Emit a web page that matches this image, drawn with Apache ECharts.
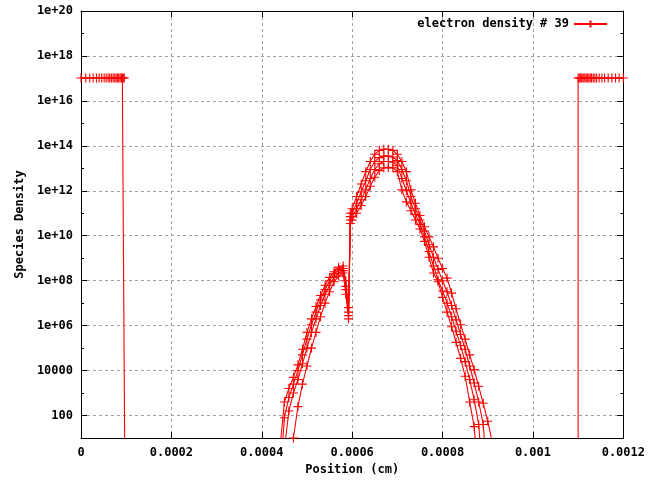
<!DOCTYPE html>
<html><head><meta charset="utf-8">
<script src="https://cdn.jsdelivr.net/npm/echarts@6/dist/echarts.min.js"></script>
<style>html,body{margin:0;padding:0;background:#fff}#c{width:648px;height:481px}</style>
</head><body><div id="c"></div>
<script>
const seriesName = 'electron density # 39';
const xAxisName = 'Position (cm)';
const yAxisName = 'Species Density';
const xTickLabels = ['0', '0.0002', '0.0004', '0.0006', '0.0008', '0.001', '0.0012'];
const yTickLabels = ['100', '10000', '1e+06', '1e+08', '1e+10', '1e+12', '1e+14', '1e+16', '1e+18', '1e+20'];

// left electrode plateau and its drop
const leftPlateauX = [0, 1.06e-5, 1.94e-5, 2.69e-5, 3.42e-5, 4.01e-5, 4.59e-5, 5.12e-5, 5.56e-5, 6.0e-5, 6.35e-5,
  6.73e-5, 7.1e-5, 7.46e-5, 7.76e-5, 8.05e-5, 8.34e-5, 8.65e-5, 8.95e-5, 9.15e-5, 9.35e-5, 9.58e-5, 1.0e-4];
const leftPlateauY = [1.05e17, 1.05e17, 1.05e17, 1.05e17, 1.05e17, 1.05e17, 1.05e17, 1.05e17, 1.05e17, 1.05e17, 1.05e17,
  1.05e17, 1.05e17, 1.05e17, 1.05e17, 1.05e17, 1.05e17, 1.05e17, 1.05e17, 1.05e17, 1.05e17, 1.05e17, 1e-10];

// right electrode rise and plateau
const rightPlateauX = [0.0011, 0.0011, 0.0011025, 0.0011047, 0.0011078, 0.0011107, 0.0011129, 0.0011151, 0.0011179,
  0.001121, 0.0011239, 0.0011268, 0.0011298, 0.0011334, 0.0011371, 0.0011409, 0.0011466, 0.0011526, 0.0011585,
  0.0011665, 0.0011746, 0.0011828, 0.0011907, 0.0012];
const rightPlateauY = [1e-10, 1.05e17, 1.05e17, 1.05e17, 1.05e17, 1.05e17, 1.05e17, 1.05e17, 1.05e17,
  1.05e17, 1.05e17, 1.05e17, 1.05e17, 1.05e17, 1.05e17, 1.05e17, 1.05e17, 1.05e17, 1.05e17,
  1.05e17, 1.05e17, 1.05e17, 1.05e17, 1.05e17];

// plasma hump mesh (shared by all profiles)
const humpX = [0.00044, 0.00045, 0.00046, 0.00047, 0.00048, 0.00049, 0.0005, 0.00051, 0.00052, 0.00053, 0.00054,
  0.00055, 0.00056, 0.00057, 0.00058, 0.000586, 0.000592, 0.000596, 0.0006, 0.00061, 0.00062, 0.00063, 0.00064,
  0.00065, 0.00066, 0.00067, 0.00068, 0.00069, 0.0007, 0.00071, 0.00072, 0.00073, 0.00074, 0.00075, 0.00076,
  0.00077, 0.00078, 0.00079, 0.0008, 0.00081, 0.00082, 0.00083, 0.00084, 0.00085, 0.00086, 0.00087, 0.00088,
  0.00089, 0.0009, 0.00091, 0.00092];
const curveA = [3.2, 400, 1600, 5000, 1.8e4, 8.9e4, 5e5, 2e6, 7.1e6, 2.2e7, 6.3e7, 1.4e8, 2.5e8, 4e8, 4.5e8, 1e8, 6.3e6,
  1e11, 1.6e11, 5.6e11, 2e12, 7.1e12, 2e13, 4.2e13, 6.3e13, 7.1e13, 7.1e13, 6.3e13, 4.2e13, 2e13, 7.1e12, 1.1e12, 2.8e11,
  7.9e10, 2.5e10, 8.9e9, 3.2e9, 1e9, 3.5e8, 1.3e8, 2.8e7, 5.6e6, 1.1e6, 2.5e5, 5e4, 1.1e4, 2e3, 350, 56, 6.3, 0.1];
const curveB = [0.1, 80, 630, 2500, 1e4, 5e4, 2.5e5, 1.1e6, 4e6, 1.4e7, 4e7, 1e8, 2e8, 3.2e8, 3.5e8, 5.6e7, 4e6,
  7.1e10, 1e11, 2.8e11, 8.9e11, 2.8e12, 8.9e12, 2e13, 3e13, 3.5e13, 3.5e13, 3.2e13, 2.2e13, 8.9e12, 2.8e12, 5.6e11,
  1.6e11, 5e10, 1.6e10, 4e9, 1.1e9, 3.2e8, 1e8, 3.2e7, 7.9e6, 1.8e6, 4e5, 8.9e4, 1.6e4, 2.8e3, 400, 40, 0.1];
const curveC = [0.1, 3.2, 160, 1e3, 4e3, 2e4, 1e5, 5e5, 2e6, 7.9e6, 2.5e7, 6.3e7, 1.4e8, 2.2e8, 2.8e8, 4e7, 2.8e6,
  5e10, 7.1e10, 1.6e11, 4e11, 1.1e12, 3.5e12, 8.9e12, 1.6e13, 2e13, 2e13, 1.9e13, 1.3e13, 3.5e12, 1e12, 2.8e11,
  8.9e10, 3.2e10, 8.9e9, 2e9, 4.5e8, 1.1e8, 3.5e7, 1e7, 2.5e6, 5.6e5, 1.3e5, 2.5e4, 4e3, 500, 40, 0.1];
const curveD = [0.1, 0.1, 0.1, 10, 250, 2.5e3, 1.6e4, 1e5, 5e5, 2.5e6, 1e7, 3.2e7, 8.9e7, 1.6e8, 2.2e8, 2.5e7, 2e6,
  3.5e10, 5e10, 1e11, 2.2e11, 5.6e11, 1.6e12, 4e12, 7.9e12, 1.05e13, 1.1e13, 1.05e13, 7.1e12, 1.1e12, 3.2e11, 1.3e11,
  5e10, 2e10, 5.6e9, 1.1e9, 2.2e8, 8.9e7, 1.8e7, 4e6, 8.9e5, 1.8e5, 3.5e4, 5.6e3, 400, 32, 0.1];

const FONT = "'DejaVu Sans Mono', monospace";
const RED = '#ff0000';
const plusPath = 'path://M0,4.5L9,4.5M4.5,0L4.5,9';
const txt = { fontFamily: FONT, fontWeight: 'bold', fontSize: 12, color: '#000' };

function pairs(xs, ys) { return ys.map((y, i) => [xs[i], y]); }
function mk(data) {
  return {
    name: seriesName, type: 'line', data: data, xAxisIndex: 0, yAxisIndex: 0,
    symbol: plusPath, symbolSize: 9, showAllSymbol: true, clip: true, silent: true,
    lineStyle: { color: RED, width: 1.1 },
    itemStyle: { color: RED, borderColor: RED, borderWidth: 1.1 },
    emphasis: { disabled: true }
  };
}

const chart = echarts.init(document.getElementById('c'), null, { renderer: 'canvas' });
chart.setOption({
  animation: false,
  backgroundColor: '#fff',
  grid: { left: 81, right: 22, top: 11, bottom: 43, containLabel: false },
  legend: {
    data: [seriesName], right: 35, top: 13, align: 'right', itemWidth: 33, itemHeight: 9,
    textStyle: txt, selectedMode: false
  },
  xAxis: [
    {
      type: 'value', position: 'bottom', min: 0, max: 0.0012, interval: 0.0002,
      axisLine: { show: true, lineStyle: { color: '#000', width: 1 } },
      axisTick: { show: true, inside: true, length: 6, lineStyle: { color: '#000' } },
      axisLabel: Object.assign({ margin: 9, formatter: v => xTickLabels[Math.round(v / 0.0002)] }, txt),
      splitLine: { show: true, lineStyle: { color: '#a0a0a0', width: 1, type: [3, 3] } },
      name: xAxisName, nameLocation: 'middle', nameGap: 26, nameTextStyle: txt
    },
    {
      type: 'value', position: 'top', min: 0, max: 0.0012, interval: 0.0002,
      axisLine: { show: true, lineStyle: { color: '#000', width: 1 } },
      axisTick: { show: true, inside: true, length: 6, lineStyle: { color: '#000' } },
      axisLabel: { show: false }, splitLine: { show: false }
    }
  ],
  yAxis: [
    {
      type: 'log', logBase: 100, min: 10, max: 1e20, splitNumber: 10, position: 'left',
      axisLine: { show: true, lineStyle: { color: '#000', width: 1 } },
      axisTick: { show: true, inside: true, length: 6, lineStyle: { color: '#000' } },
      axisLabel: Object.assign({
        margin: 8, formatter: v => {
          const e = Math.round(Math.log10(v));
          return (e >= 2 && e % 2 === 0) ? yTickLabels[e / 2 - 1] : '';
        }
      }, txt),
      splitLine: { show: true, lineStyle: { color: '#a0a0a0', width: 1, type: [3, 3] } },
      name: yAxisName, nameLocation: 'middle', nameGap: 55, nameTextStyle: txt
    },
    {
      type: 'value', min: 1, max: 20, interval: 1, position: 'left',
      axisLine: { show: false },
      axisTick: { show: true, inside: true, length: 3, lineStyle: { color: '#000' } },
      axisLabel: { show: false }, splitLine: { show: false }
    },
    {
      type: 'log', logBase: 100, min: 10, max: 1e20, splitNumber: 10, position: 'right',
      axisLine: { show: true, lineStyle: { color: '#000', width: 1 } },
      axisTick: { show: true, inside: true, length: 6, lineStyle: { color: '#000' } },
      axisLabel: { show: false }, splitLine: { show: false }
    },
    {
      type: 'value', min: 1, max: 20, interval: 1, position: 'right',
      axisLine: { show: false },
      axisTick: { show: true, inside: true, length: 3, lineStyle: { color: '#000' } },
      axisLabel: { show: false }, splitLine: { show: false }
    }
  ],
  series: [
    mk(pairs(leftPlateauX, leftPlateauY)),
    mk(pairs(humpX, curveD)),
    mk(pairs(humpX, curveC)),
    mk(pairs(humpX, curveB)),
    mk(pairs(humpX, curveA)),
    mk(pairs(rightPlateauX, rightPlateauY))
  ]
});
</script>
</body></html>
